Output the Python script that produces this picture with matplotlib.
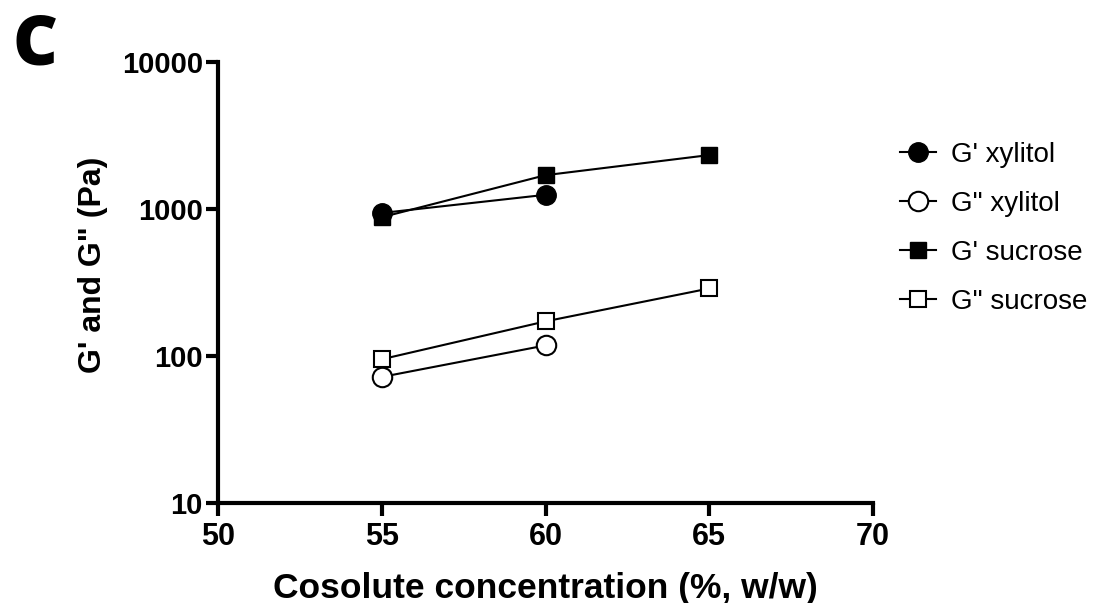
import matplotlib.pyplot as plt

# cosolute concentration (%, w/w)
conc_xylitol = [55, 60]
conc_sucrose = [55, 60, 65]

# moduli in Pa
g1_xylitol = [940, 1250]
g2_xylitol = [72, 118]
g1_sucrose = [880, 1700, 2330]
g2_sucrose = [95, 172, 288]

labels = ["G' xylitol", 'G" xylitol', "G' sucrose", 'G" sucrose']

plt.rcParams['font.family'] = ['Liberation Sans', 'DejaVu Sans']

fig = plt.figure(figsize=(10.96, 6.03), dpi=100)
ax = fig.add_axes([0.199, 0.166, 0.5975, 0.731])

ms_c = 14
ms_s = 12
ax.plot(conc_xylitol, g1_xylitol, 'k-', marker='o', ms=ms_c, mfc='black', lw=1.5, label=labels[0])
ax.plot(conc_xylitol, g2_xylitol, 'k-', marker='o', ms=ms_c, mfc='white', mew=1.5, lw=1.5, label=labels[1])
ax.plot(conc_sucrose, g1_sucrose, 'k-', marker='s', ms=ms_s, mfc='black', lw=1.5, label=labels[2])
ax.plot(conc_sucrose, g2_sucrose, 'k-', marker='s', ms=ms_s, mfc='white', mew=1.5, lw=1.5, label=labels[3])

ax.set_yscale('log')
ax.set_xlim(50, 70)
ax.set_ylim(10, 10000)
ax.set_xticks([50, 55, 60, 65, 70])
ax.set_yticks([10, 100, 1000, 10000])
ax.set_yticklabels(['10', '100', '1000', '10000'])
ax.minorticks_off()

for s in ['top', 'right']:
    ax.spines[s].set_visible(False)
for s in ['left', 'bottom']:
    ax.spines[s].set_linewidth(3)
ax.tick_params(axis='x', width=3, length=9, labelsize=22, pad=5)
ax.tick_params(axis='y', width=3, length=9, labelsize=21, pad=2)
for t in ax.get_xticklabels() + ax.get_yticklabels():
    t.set_fontweight('bold')

ax.set_xlabel('Cosolute concentration (%, w/w)', fontsize=25.5, fontweight='bold', labelpad=14)
ax.set_ylabel('G\' and G" (Pa)', fontsize=23, fontweight='bold', labelpad=10, y=0.54)

fig.text(0.011, 0.893, 'C', fontsize=50, fontweight='heavy', family=['Open Sans', 'DejaVu Sans'])

leg = ax.legend(loc='upper left', bbox_to_anchor=(1.003, 0.875), frameon=False,
                handlelength=1.3, labelspacing=0.82, handletextpad=0.55,
                markerscale=1.0, prop={'family': 'Liberation Sans', 'size': 20})

fig.savefig('out.png', dpi=100)
